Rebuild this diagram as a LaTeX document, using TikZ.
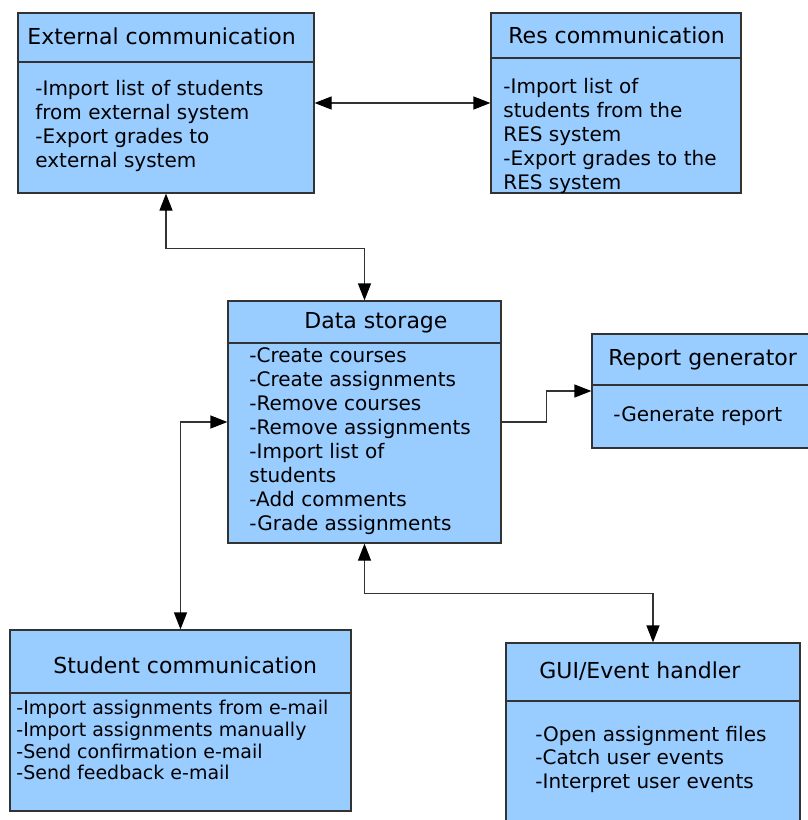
\documentclass[tikz,border=0pt]{standalone}
\usepackage{fontspec}
\setmainfont{DejaVu Sans}
\usetikzlibrary{positioning, fit, arrows.meta}
\definecolor{boxblue}{RGB}{153,204,255}
\definecolor{boxline}{RGB}{51,51,51}

\begin{document}
\begin{tikzpicture}[x=0.5pt, y=-0.5pt,
>={Triangle[length=8.5pt,width=6.5pt,black]},
box/.style={draw=boxline, fill=boxblue, line width=0.6pt, inner sep=0pt},
divider/.style={draw=boxline, line width=0.6pt},
title/.style={anchor=base west, inner sep=0pt, font=\fontsize{11}{13}\selectfont},
body/.style={anchor=north west, inner sep=0pt, align=left, font=\fontsize{10}{12}\selectfont},
smallbody/.style={body, font=\fontsize{9.5}{10.85}\selectfont},
link/.style={<->, draw=boxline, line width=0.6pt},
oneway/.style={->, draw=boxline, line width=0.6pt},
]
\useasboundingbox (0,0) rectangle (808,820);
\clip (0,0) rectangle (808,820);
%boxes
\node[box, fit={(18,13) (314,193)}] (ext) {};
\node[box, fit={(491,13) (741,193)}] (res) {};
\node[box, fit={(228,301) (501,543)}] (data) {};
\node[box, fit={(592,334) (812,448)}] (rep) {};
\node[box, fit={(10,630) (351,811)}] (stud) {};
\node[box, fit={(506,643) (800,830)}] (gui) {};
%dividers
\draw[divider] (ext.west |- 0,62) -- (ext.east |- 0,62);
\draw[divider] (res.west |- 0,58) -- (res.east |- 0,58);
\draw[divider] (data.west |- 0,343) -- (data.east |- 0,343);
\draw[divider] (rep.west |- 0,385) -- (rep.east |- 0,385);
\draw[divider] (stud.west |- 0,693) -- (stud.east |- 0,693);
\draw[divider] (gui.west |- 0,701) -- (gui.east |- 0,701);
%titles
\node[title] (ext-title) at (27,44) {External communication};
\node[title] (res-title) at (508,43) {Res communication};
\node[title] (data-title) at (304,328) {Data storage};
\node[title] (rep-title) at (608,365) {Report generator};
\node[title] (stud-title) at (53,673) {Student communication};
\node[title] (gui-title) at (539,678) {GUI/Event handler};
%contents
\node[body] (ext-body) at (35,80) {-Import list of students\\from external system\\-Export grades to\\external system};
\node[body] (res-body) at (503,78) {-Import list of\\students from the\\RES system\\-Export grades to the\\RES system};
\node[body] (data-body) at (249,347) {-Create courses\\-Create assignments\\-Remove courses\\-Remove assignments\\-Import list of\\students\\-Add comments\\-Grade assignments};
\node[body] (rep-body) at (613,406) {-Generate report};
\node[smallbody] (stud-body) at (16,700) {-Import assignments from e-mail\\-Import assignments manually\\-Send confirmation e-mail\\-Send feedback e-mail};
\node[body, font=\fontsize{10}{11.65}\selectfont] (gui-body) at (535,726) {-Open assignment files\\-Catch user events\\-Interpret user events};
%connections
\draw[link] (ext.east) -- (res.west);
\draw[link] (ext.south) -- ++(0,55) -| (data.north);
\draw[link] (data.west) -| (stud.north);
\draw[oneway] (data.east) -- ++(45,0) |- (rep.west);
\draw[link] (data.south) -- ++(0,50) -| (gui.north);
\end{tikzpicture}
\end{document}
